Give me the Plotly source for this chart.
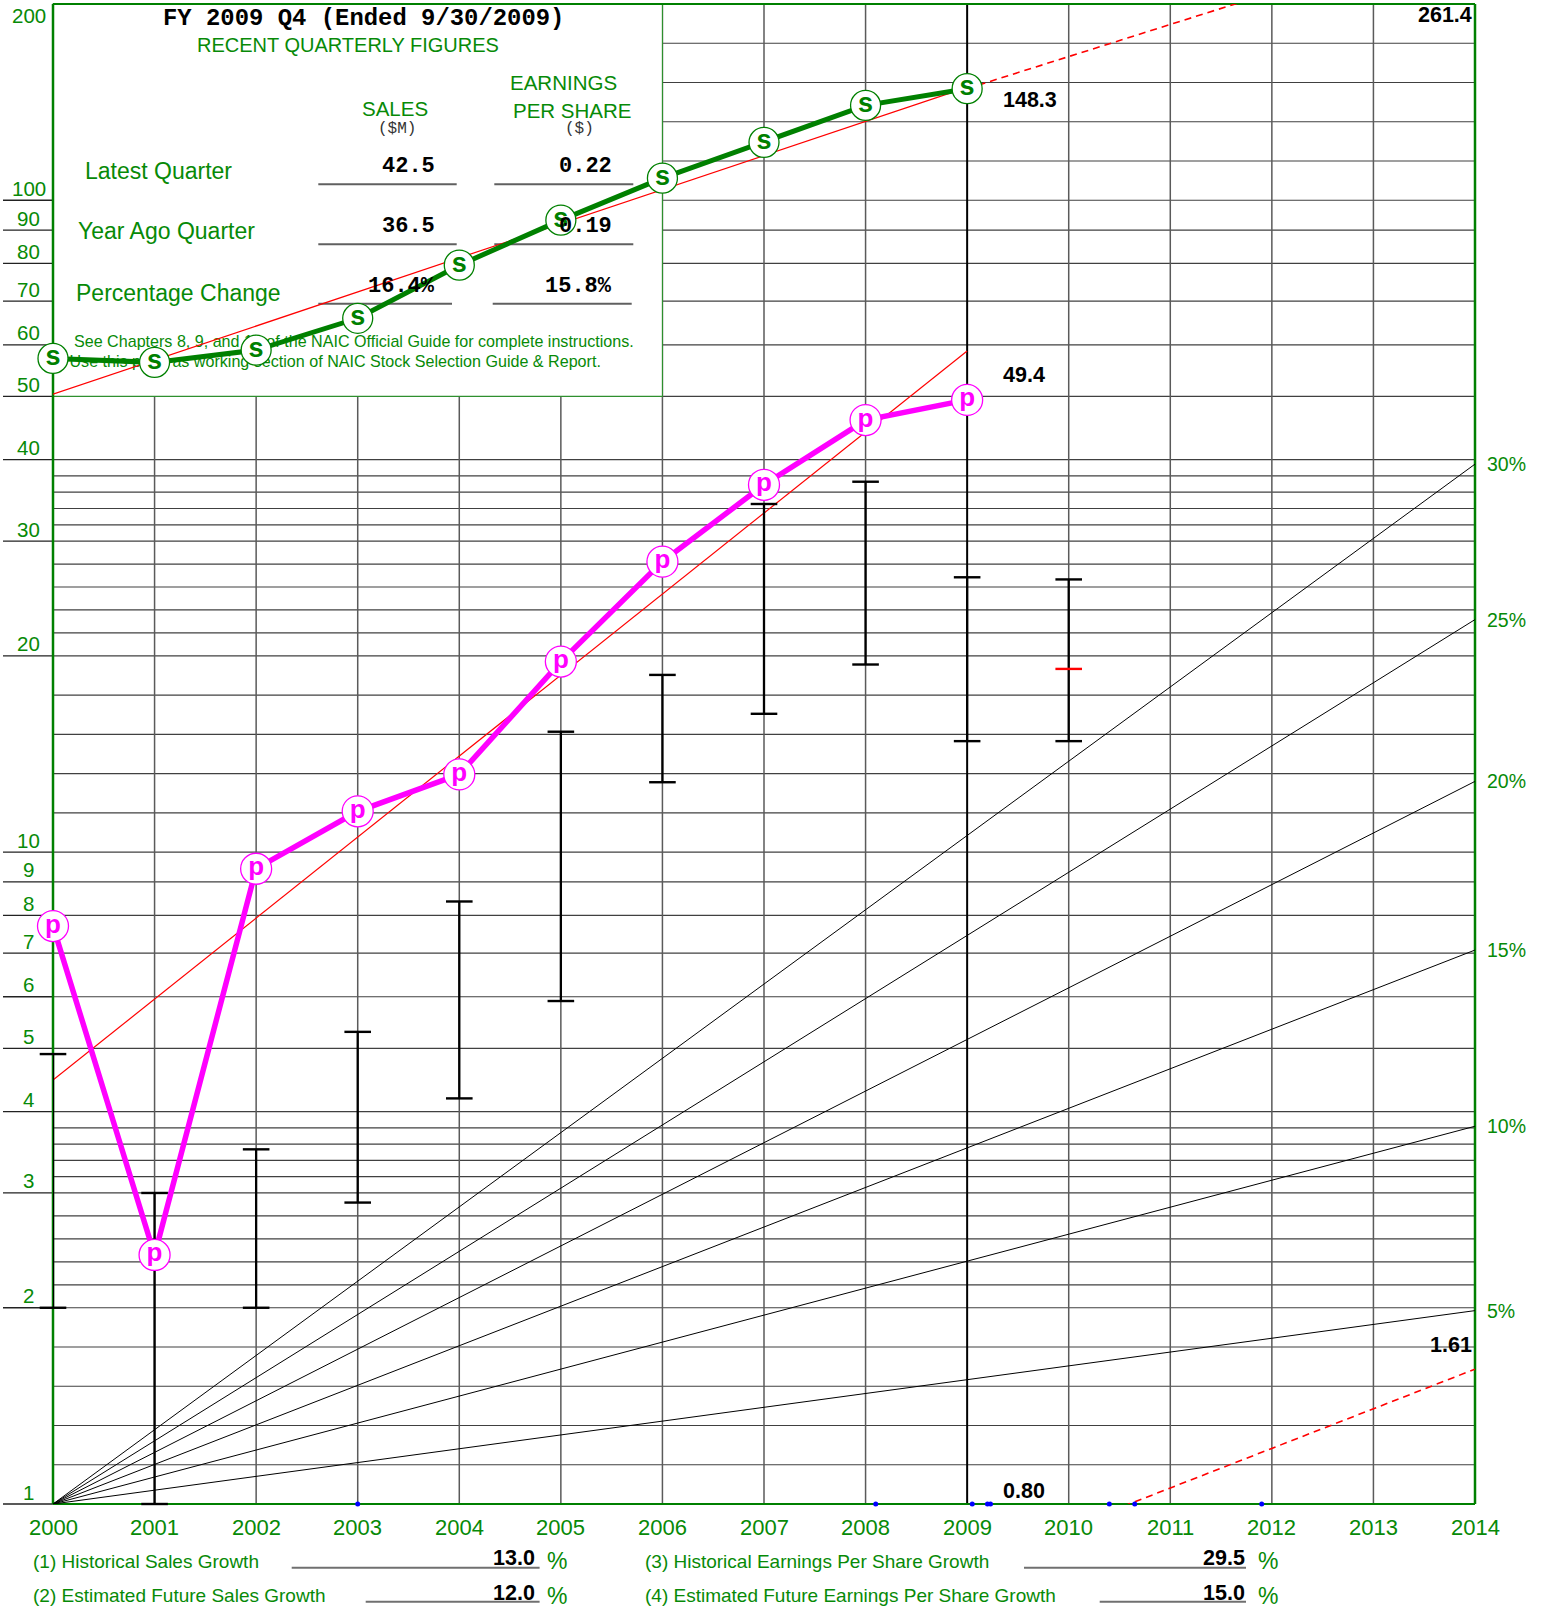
import numpy as np
import plotly.graph_objects as go

# ---------------- data ----------------
years = [2000, 2001, 2002, 2003, 2004, 2005, 2006, 2007, 2008, 2009]
sales = [57.2, 56.4, 58.9, 65.9, 79.5, 93.2, 108.1, 122.7, 139.8, 148.3]
eps = [7.70, 2.41, 9.43, 11.55, 13.16, 19.6, 27.9, 36.6, 46.0, 49.4]

price_years = [2000, 2001, 2002, 2003, 2004, 2005, 2006, 2007, 2008, 2009, 2010]
price_high = [4.9, 3.0, 3.5, 5.3, 8.4, 15.3, 18.7, 34.2, 37.0, 26.4, 26.2]
price_low = [2.0, 1.0, 2.0, 2.9, 4.19, 5.91, 12.8, 16.3, 19.4, 14.8, 14.8]
price_current_year = [2010]
price_current = [19.1]

trend_years = [2000, 2009]
sales_trend = [50.4, 149.0]
eps_trend = [4.47, 58.7]

proj_years = [2009, 2014]
sales_proj = [148.3, 261.4]
eps_proj = [0.80, 1.61]

growth_rates = [5, 10, 15, 20, 25, 30]

blue_dot_years = [2003.0, 2008.1, 2009.05, 2009.2, 2009.23, 2010.4, 2010.65, 2011.9]

axis_years = list(range(2000, 2015))
y_tick_labels = [100, 90, 80, 70, 60, 50, 40, 30, 20, 10, 9, 8, 7, 6, 5, 4, 3, 2, 1]
y_top_label = 200

quarter_rows = ["Latest Quarter", "Year Ago Quarter", "Percentage Change"]
quarter_sales = ["42.5", "36.5", "16.4%"]
quarter_eps = ["0.22", "0.19", "15.8%"]

growth_labels = ["(1) Historical Sales Growth", "(2) Estimated Future Sales Growth",
                 "(3) Historical Earnings Per Share Growth",
                 "(4) Estimated Future Earnings Per Share Growth"]
growth_values = [13.0, 12.0, 29.5, 15.0]

# ---------------- geometry helpers ----------------
W, H = 1541, 1606
ML, MR, MT, MB = 53, 66, 4, 102
PW = W - ML - MR
PH = H - MT - MB
X0, X1 = 2000, 2014
LOGTOP = np.log10(200)


def xp(year):
    return (year - X0) / (X1 - X0)


def yp(v):
    return float(np.log10(v) / LOGTOP)


def xpx(px):
    return (px - ML) / PW


def ypx(py):
    return (H - MB - py) / PH


def px_year(px):
    return X0 + xpx(px) * (X1 - X0)


def py_val(py):
    return float(10 ** (ypx(py) * LOGTOP))


GREEN = "#008000"
TGREEN = "#078a07"
GRID = "#404040"
SANS = "Liberation Sans, Arial, sans-serif"
MONO = "Liberation Mono, Courier New, monospace"


def sub5(a, b):
    return [a * (b / a) ** (k / 5) for k in range(1, 5)]


grid_major = [2, 3, 4, 5, 6, 7, 8, 9, 10, 20, 30, 40, 50, 60, 70, 80, 90, 100]
grid_minor = sub5(1, 2) + sub5(2, 3) + sub5(3, 4) + sub5(10, 20) + sub5(20, 30) + sub5(30, 40) + sub5(100, 200)

shapes = []


def hline(x0, x1, y, color, width):
    shapes.append(dict(type="line", xref="paper", yref="paper", x0=x0, x1=x1, y0=y, y1=y,
                       line=dict(color=color, width=width), layer="below"))


def vline(x, y0, y1, color, width):
    shapes.append(dict(type="line", xref="paper", yref="paper", x0=x, x1=x, y0=y0, y1=y1,
                       line=dict(color=color, width=width), layer="below"))


# horizontal grid
for v in grid_major + grid_minor:
    hline(0, 1, yp(v), GRID, 1.2)
# labelled lines continue into the left margin
for v in y_tick_labels:
    hline(xpx(3), 0, yp(v), "#222222", 1.3)
# vertical year lines
for yr in axis_years[1:-1]:
    if yr == 2009:
        vline(xp(yr), 0, 1, "#000000", 2)
    else:
        vline(xp(yr), 0, 1, "#5a5a5a", 1.5)

# quarterly figures panel
shapes.append(dict(type="rect", xref="paper", yref="paper", x0=0, x1=xp(2006), y0=yp(50), y1=1,
                   fillcolor="white", line=dict(color="#2e8f2e", width=1.2), layer="below"))

# underlines in the panel and in the footer
for y in [184.3, 244.3]:
    hline(xpx(318.3), xpx(456.7), ypx(y), "#606060", 2)
    hline(xpx(494.3), xpx(633.3), ypx(y), "#606060", 2)
hline(xpx(318.3), xpx(452.0), ypx(303.7), "#606060", 2)
hline(xpx(492.7), xpx(631.7), ypx(303.7), "#606060", 2)
hline(xpx(291.7), xpx(539.6), ypx(1567.7), "#707070", 2)
hline(xpx(365.7), xpx(539.6), ypx(1601.7), "#707070", 2)
hline(xpx(1024.0), xpx(1246.0), ypx(1567.7), "#707070", 2)
hline(xpx(1099.7), xpx(1246.0), ypx(1601.7), "#707070", 2)

# frame
vline(0, 0, 1, GREEN, 2.5)
vline(1, 0, 1, GREEN, 2.5)
hline(0, 1, 1, GREEN, 2)
hline(0, 1, 0, GREEN, 2)

# ---------------- traces ----------------
fig = go.Figure()

# growth-rate fan from (2000, 1)
fan_x, fan_y = [], []
for r in growth_rates:
    fan_x += [X0, X1, None]
    fan_y += [1.0, (1 + r / 100) ** (X1 - X0), None]
fig.add_trace(go.Scatter(x=fan_x, y=fan_y, mode="lines", line=dict(color="black", width=1),
                         hoverinfo="skip"))

# footnote inside the panel
fig.add_trace(go.Scatter(
    x=[px_year(74), px_year(69.5)], y=[py_val(342.5), py_val(362.5)], mode="text",
    text=["See Chapters 8, 9, and 10 of the NAIC Official Guide for complete instructions.",
          "Use this page as working section of NAIC Stock Selection Guide & Report."],
    textposition="middle right", textfont=dict(family=SANS, size=16.1, color=TGREEN),
    hoverinfo="skip"))

# trend lines and projections
fig.add_trace(go.Scatter(x=trend_years, y=sales_trend, mode="lines",
                         line=dict(color="#ff0000", width=1.2), hoverinfo="skip"))
fig.add_trace(go.Scatter(x=proj_years, y=sales_proj, mode="lines",
                         line=dict(color="#ff0000", width=1.6, dash="7px,5px"), hoverinfo="skip"))
fig.add_trace(go.Scatter(x=trend_years, y=eps_trend, mode="lines",
                         line=dict(color="#ff0000", width=1.2), hoverinfo="skip"))
fig.add_trace(go.Scatter(x=proj_years, y=eps_proj, mode="lines",
                         line=dict(color="#ff0000", width=1.6, dash="7px,5px"), hoverinfo="skip"))

# yearly price ranges
bar_x, bar_y = [], []
for yr, hi, lo in zip(price_years, price_high, price_low):
    bar_x += [yr, yr, None]
    bar_y += [hi, lo, None]
fig.add_trace(go.Scatter(x=bar_x, y=bar_y, mode="lines", line=dict(color="black", width=2.3),
                         hoverinfo="skip"))
fig.add_trace(go.Scatter(x=price_years + price_years, y=price_high + price_low, mode="markers",
                         marker=dict(symbol="line-ew", size=19, line=dict(color="black", width=2.4)),
                         cliponaxis=False, hoverinfo="skip"))
fig.add_trace(go.Scatter(x=price_current_year, y=price_current, mode="markers",
                         marker=dict(symbol="line-ew", size=19, line=dict(color="#ff0000", width=2.4)),
                         cliponaxis=False, hoverinfo="skip"))

# sales
fig.add_trace(go.Scatter(
    x=years, y=sales, mode="lines+markers+text", text=["s"] * len(years),
    textposition="middle center", textfont=dict(family=SANS, size=27, color=GREEN, weight="bold"),
    line=dict(color=GREEN, width=5),
    marker=dict(size=30, color="white", line=dict(color=GREEN, width=1.3)),
    cliponaxis=False, hoverinfo="skip"))

# earnings per share
fig.add_trace(go.Scatter(
    x=years, y=eps, mode="lines+markers+text", text=["p"] * len(years),
    textposition="middle center", textfont=dict(family=SANS, size=26, color="#ff00ff", weight="bold"),
    line=dict(color="#ff00ff", width=5.5),
    marker=dict(size=31, color="white", line=dict(color="#ff00ff", width=1.3)),
    cliponaxis=False, hoverinfo="skip"))

# markers on the base line
fig.add_trace(go.Scatter(x=blue_dot_years, y=[1.0] * len(blue_dot_years), mode="markers",
                         marker=dict(size=5, color="#0000ff"), cliponaxis=False, hoverinfo="skip"))

# ---------------- annotations ----------------
ann = []


def text(x, y, s, size, color, family, xanchor="center", bold=False):
    ann.append(dict(xref="paper", yref="paper", x=x, y=y, text=s, showarrow=False,
                    xanchor=xanchor, yanchor="middle",
                    font=dict(size=size, color=color, family=family,
                              weight="bold" if bold else "normal")))


# axis labels
for yr in axis_years:
    text(xp(yr), ypx(1527.7), str(yr), 22, TGREEN, SANS)
for v in y_tick_labels:
    ann.append(dict(xref="paper", yref="paper", x=xpx(28.7), y=yp(v), yshift=12, text=str(v),
                    showarrow=False, xanchor="center", yanchor="middle",
                    font=dict(size=20.5, color=TGREEN, family=SANS)))
ann.append(dict(xref="paper", yref="paper", x=xpx(28.7), y=1, yshift=-11.8, text=str(y_top_label),
                showarrow=False, xanchor="center", yanchor="middle",
                font=dict(size=20.5, color=TGREEN, family=SANS)))
for r in growth_rates:
    text(xpx(1484.7), yp((1 + r / 100) ** (X1 - X0)), f"{r}%", 19.5, TGREEN, SANS, xanchor="left")

# panel text
text(xpx(363), ypx(18.2), "FY 2009 Q4 (Ended 9/30/2009)", 23.9, "black", MONO, bold=True)
text(xpx(347.6), ypx(44.5), "RECENT QUARTERLY FIGURES", 20, TGREEN, SANS)
text(xpx(394.5), ypx(108), "SALES", 20.5, TGREEN, SANS)
text(xpx(397.3), ypx(129), "($M)", 16, "#333333", MONO)
text(xpx(563.8), ypx(83), "EARNINGS", 20.5, TGREEN, SANS)
text(xpx(571.8), ypx(110.5), "PER SHARE", 20.5, TGREEN, SANS)
text(xpx(579), ypx(129), "($)", 16, "#333333", MONO)
for s, xl, yc in zip(quarter_rows, [85, 78.3, 76], [171, 231.5, 292.5]):
    text(xpx(xl - 2), ypx(yc), s, 23, TGREEN, SANS, xanchor="left")
for s, yc in zip(quarter_sales, [166.7, 226.7, 286.7]):
    text(xpx(437), ypx(yc), s, 22, "black", MONO, xanchor="right", bold=True)
for s, yc in zip(quarter_eps, [166.7, 226.7, 286.7]):
    text(xpx(613.5), ypx(yc), s, 22, "black", MONO, xanchor="right", bold=True)

# value call-outs
CALL = 21.5
text(xpx(1030), ypx(100.4), f"{sales[-1]:.1f}", CALL, "black", SANS, bold=True)
text(xpx(1024), ypx(374.9), f"{eps[-1]:.1f}", CALL, "black", SANS, bold=True)
text(xpx(1474), ypx(15.4), f"{sales_proj[-1]:.1f}", CALL, "black", SANS, xanchor="right", bold=True)
text(xpx(1474), ypx(1344.8), f"{eps_proj[-1]:.2f}", CALL, "black", SANS, xanchor="right", bold=True)
text(xpx(1024), ypx(1491), f"{eps_proj[0]:.2f}", CALL, "black", SANS, bold=True)

# growth summary footer
rows_y = [1561, 1596, 1561, 1596]
label_x = [33.3, 33.3, 645, 645]
value_right = [536.5, 536.5, 1247, 1247]
pct_left = [545, 545, 1256, 1256]
for lab, val, yc, lx, vr, pl in zip(growth_labels, growth_values, rows_y, label_x, value_right, pct_left):
    text(xpx(lx - 2), ypx(yc), lab, 19, TGREEN, SANS, xanchor="left")
    text(xpx(vr), ypx(yc - 3), f"{val:.1f}", CALL, "black", SANS, xanchor="right", bold=True)
    text(xpx(pl), ypx(yc), "%", 23, TGREEN, SANS, xanchor="left")

fig.update_layout(
    width=W, height=H, autosize=False,
    margin=dict(l=ML, r=MR, t=MT, b=MB, pad=0),
    paper_bgcolor="white", plot_bgcolor="white",
    showlegend=False,
    xaxis=dict(range=[X0, X1], showgrid=False, zeroline=False, showline=False,
               showticklabels=False, ticks=""),
    yaxis=dict(type="log", range=[0, LOGTOP], showgrid=False, zeroline=False, showline=False,
               showticklabels=False, ticks=""),
    shapes=shapes,
    annotations=ann,
)

fig.write_html("out.html")
